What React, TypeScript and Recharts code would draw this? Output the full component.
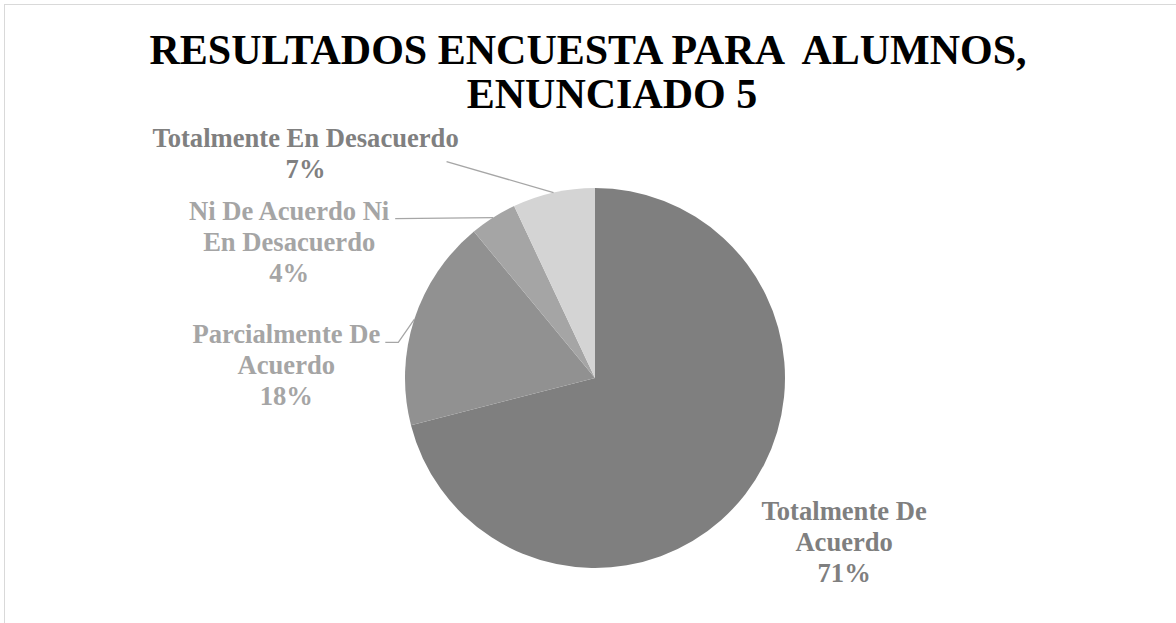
import React from "react";
import { PieChart, Pie, Cell } from "recharts";

const CATEGORIES = [
  "Totalmente De Acuerdo",
  "Parcialmente De Acuerdo",
  "Ni De Acuerdo Ni En Desacuerdo",
  "Totalmente En Desacuerdo",
];
const VALUES = [71, 18, 4, 7];
const LABEL_LINES = [
  ["Totalmente De", "Acuerdo"],
  ["Parcialmente De", "Acuerdo"],
  ["Ni De Acuerdo Ni", "En Desacuerdo"],
  ["Totalmente En Desacuerdo"],
];
const TITLE_LINES = ["RESULTADOS ENCUESTA PARA  ALUMNOS,", "ENUNCIADO 5"];

const SLICE_COLORS = ["#7f7f7f", "#919191", "#a5a5a5", "#d4d4d4"];
const LABEL_COLORS = ["#7f7f7f", "#a5a5a5", "#a5a5a5", "#808080"];
const FONT = "'Liberation Serif', 'Times New Roman', serif";

// label offsets relative to the point on the arc at the slice's mid angle
const LABEL_LAYOUT = [
  { dx: 99, dy: 26, leader: [] as number[][] },
  { dx: -128, dy: 24, leader: [[-16, 23], [-29, 23]] },
  { dx: -204, dy: 2, leader: [[-98, 1]] },
  { dx: -248, dy: -46, leader: [[-107, -31]] },
];

const data = CATEGORIES.map((name, i) => ({ name, value: VALUES[i] }));

const RAD = Math.PI / 180;
const LINE_H = 31;

const renderLabel = (props: any) => {
  const { cx, cy, midAngle, outerRadius, percent, index } = props;
  const px = cx + outerRadius * Math.cos(-midAngle * RAD);
  const py = cy + outerRadius * Math.sin(-midAngle * RAD);
  const lay = LABEL_LAYOUT[index];
  const lines = [...LABEL_LINES[index], `${Math.round(percent * 100)}%`];
  const pts = [[px, py], ...lay.leader.map(([x, y]) => [px + x, py + y])];
  return (
    <g key={`lbl-${index}`}>
      {pts.length > 1 && (
        <polyline
          points={pts.map((p) => p.join(",")).join(" ")}
          fill="none"
          stroke="#a6a6a6"
          strokeWidth={1.3}
        />
      )}
      <text
        x={px + lay.dx}
        y={py + lay.dy}
        textAnchor="middle"
        fill={LABEL_COLORS[index]}
        style={{ fontFamily: FONT, fontWeight: 700, fontSize: 26.6 }}
      >
        {lines.map((l, i) => (
          <tspan key={i} x={px + lay.dx} dy={i === 0 ? 0 : LINE_H}>
            {l}
          </tspan>
        ))}
      </text>
    </g>
  );
};

export default function App() {
  return (
    <div
      style={{
        position: "absolute",
        left: 0,
        top: 0,
        width: 1176,
        height: 623,
        overflow: "hidden",
        background: "#fff",
      }}
    >
      <style>{`.recharts-pie-sectors { filter: url(#pieShadow); }`}</style>
      <svg width={0} height={0} style={{ position: "absolute" }}>
        <defs>
          <filter id="pieShadow" x="-10%" y="-10%" width="120%" height="120%">
            <feDropShadow dx="0" dy="0" stdDeviation="3" floodColor="#000" floodOpacity="0.35" />
          </filter>
        </defs>
      </svg>
      <div
        style={{
          position: "absolute",
          left: 4,
          top: 4,
          width: 1240,
          height: 700,
          border: "1.5px solid #d9d9d9",
        }}
      />
      {TITLE_LINES.map((t, i) => (
        <div
          key={i}
          style={{
            position: "absolute",
            left: i === 0 ? 0 : 24,
            width: 1176,
            top: i === 0 ? 26 : 70,
            textAlign: "center",
            fontFamily: FONT,
            fontWeight: 700,
            fontSize: 42,
            lineHeight: "48px",
            color: "#000",
            whiteSpace: "pre",
          }}
        >
          {t}
        </div>
      ))}
      <div style={{ position: "absolute", left: 0, top: 0 }}>
        <PieChart width={1176} height={623} margin={{ top: 0, right: 0, bottom: 0, left: 0 }}>
          <Pie
            data={data}
            dataKey="value"
            nameKey="name"
            cx={595}
            cy={378}
            outerRadius={190}
            startAngle={90}
            endAngle={-270}
            stroke="none"
            label={renderLabel}
            labelLine={false}
            isAnimationActive={false}
          >
            {data.map((d, i) => (
              <Cell key={d.name} fill={SLICE_COLORS[i]} />
            ))}
          </Pie>
        </PieChart>
      </div>
    </div>
  );
}
